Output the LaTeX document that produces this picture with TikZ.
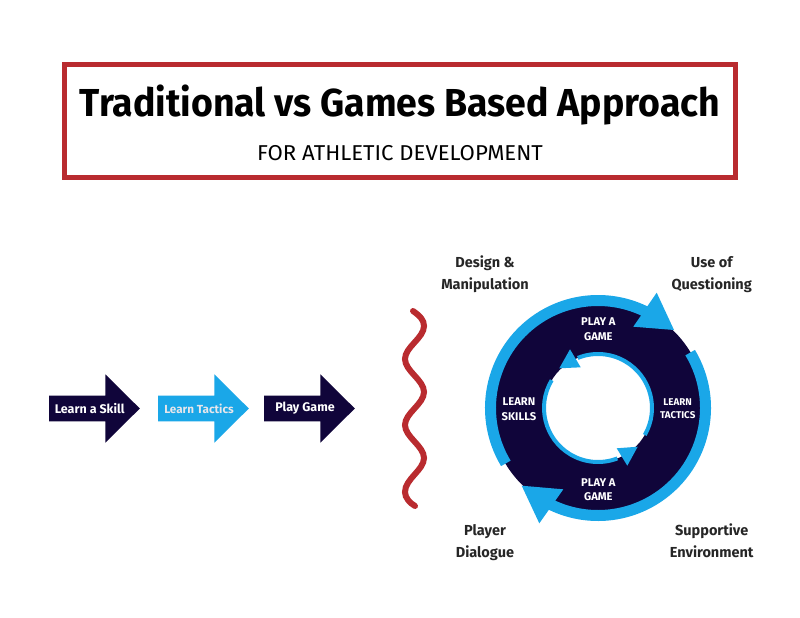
\documentclass[tikz,border=0pt]{standalone}
\usepackage{fontspec}
\setmainfont{Fira Sans}
\usepackage{xcolor}
\definecolor{navy}{HTML}{10053A}
\definecolor{sky}{HTML}{1AA7E8}
\definecolor{brick}{HTML}{B92B2F}

\begin{document}
\begin{tikzpicture}[x=1pt,y=-1pt,
	main label/.style={font=\fontsize{14.5}{22}\selectfont\bfseries,align=center,text=black!85,inner sep=0pt,anchor=base},
	ring label/.style={font=\fontsize{11.2}{14.5}\selectfont\bfseries,align=center,text=white,inner sep=0pt},
	step label/.style={font=\fontsize{12.5}{14}\selectfont\bfseries,inner sep=0pt}]

	\useasboundingbox (0,0) rectangle (800,618);
	\fill[white] (0,0) rectangle (800,618);

	\draw[brick,line width=5.5pt] (64.5,64.5) rectangle (735.5,177.5);
	\node[inner sep=0pt,xscale=0.96] (title) at (400,105) {\fontsize{39}{44}\selectfont\bfseries Traditional vs Games Based Approach};
	\node[inner sep=0pt,xscale=1.03] (subtitle) at (400,153) {\fontsize{21.5}{24}\selectfont FOR ATHLETIC DEVELOPMENT};

	% the three arrows
	\foreach \xpos/\col/\tcol/\tx/\name/\txt in {49/navy/white/89.7/skill/Learn a Skill, 158/sky/white!90!navy/199/tactics/\fontsize{11.7}{14}\selectfont Learn Tactics, 264/navy/white/305/play/Play Game}{
		\fill[\col] (\xpos,395.7) -- ++(56.3,0) -- ++(0,-21.4) -- ++(34.5,34.2) -- ++(-34.5,34.2) -- ++(0,-21.4) -- ++(-56.3,0) -- cycle;
		\node[step label,text=\tcol] (\name) at (\tx,408.5) {\txt};
	}

	% wavy line
	\draw[brick,line width=6pt,line cap=round] (413,311) .. controls (420,316) and (424,320) .. (424,326)
		.. controls (424,338) and (405,347) .. (405,359)
		.. controls (405,371) and (424,380) .. (424,392)
		.. controls (424,404) and (405,413) .. (405,425)
		.. controls (405,437) and (424,446) .. (424,458)
		.. controls (424,470) and (405,479) .. (405,492)
		.. controls (405,498) and (410,503) .. (415,506);

	% the ring
	\coordinate (ring) at (598,408);
	\fill[navy,even odd rule] (ring) circle[radius=108] (ring) circle[radius=54];
	\draw[sky,line width=11pt] (ring) ++(149:107.5) arc[start angle=149,end angle=297,radius=107.5];
	\draw[sky,line width=11pt] (ring) ++(-31:107.5) arc[start angle=-31,end angle=117,radius=107.5];
	\fill[sky] (656.7,292.7) -- (633.3,326.7) -- (674,330) -- cycle;
	\fill[sky] (521.7,485.7) -- (563.3,489.3) -- (539.3,523.3) -- cycle;
	\draw[sky,line width=4pt] (ring) ++(30:54) arc[start angle=30,end angle=-112,radius=54];
	\draw[sky,line width=4pt] (ring) ++(211:54) arc[start angle=211,end angle=69,radius=54];
	\fill[sky] (559.3,368.3) -- (570,349.3) -- (580.7,367.3) -- cycle;
	\fill[sky] (637.7,446.7) -- (616.7,448.3) -- (627.3,465.7) -- cycle;

	\node[ring label] (gametop) at (598.3,329) {PLAY A\\GAME};
	\node[ring label] (gamebot) at (598.3,489.5) {PLAY A\\GAME};
	\node[ring label] (skills) at (519,409) {LEARN\\SKILLS};
	\node[ring label,font=\fontsize{9.8}{13}\selectfont\bfseries] (tacts) at (677.7,408.5) {LEARN\\TACTICS};

	\node[main label] (design) at (485,289) {Design \&\\Manipulation};
	\node[main label] (question) at (711.7,289) {Use of\\Questioning};
	\node[main label] (dialogue) at (485,557) {Player\\Dialogue};
	\node[main label] (support) at (711.7,557) {Supportive\\Environment};
\end{tikzpicture}
\end{document}
